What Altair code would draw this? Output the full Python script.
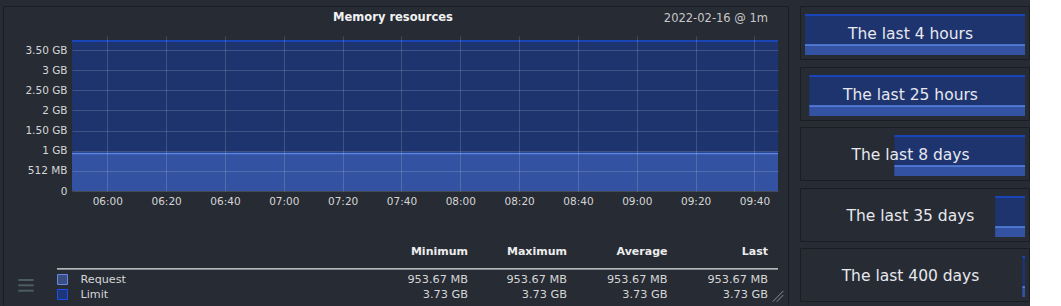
import altair as alt
import pandas as pd

# ---------------- data ----------------
times = ["2022-02-16T05:48:00", "2022-02-16T09:48:00"]
request_gib = [0.9313, 0.9313]      # 953.67 MB
limit_gib = [3.7253, 3.7253]        # 3.73 GB
y_ticks = [0, 0.5, 1, 1.5, 2, 2.5, 3, 3.5]
x_tick_labels = ["06:00", "06:20", "06:40", "07:00", "07:20", "07:40",
                 "08:00", "08:20", "08:40", "09:00", "09:20", "09:40"]
x_start, x_end = "05:48", "09:48"

series_names = ["Request", "Limit"]
stat_names = ["Minimum", "Maximum", "Average", "Last"]
request_stats = ["953.67 MB", "953.67 MB", "953.67 MB", "953.67 MB"]
limit_stats = ["3.73 GB", "3.73 GB", "3.73 GB", "3.73 GB"]
title_text = "Memory resources"
date_text = "2022-02-16 @ 1m"

mini_labels = ["The last 4 hours", "The last 25 hours", "The last 8 days",
               "The last 35 days", "The last 400 days"]
mini_window_h = [4, 25, 192, 840, 9600]
mini_data_from_h = [-4, -25, -114, -114, -114]
mini_request = [0.9313, 0.9313]
mini_limit = [3.7253, 3.7253]

# ---------------- styles / layout ----------------
FONT = "DejaVu Sans"
BG = "#262b34"
BORDER = "#1a1e24"
LIMIT_FILL = "#1e346e"
LIMIT_LINE = "#1a45b8"
REQ_FILL = "#3353a2"
REQ_LINE = "#5b84e6"
TXT = "#d6d6d6"

W, H = 706, 155
OX, OY = 72, 36          # plot origin in page pixels


def rx(v):
    return v - OX


def ry(v):
    return v - OY


def dt(hm):
    h, m = hm.split(":")
    return alt.DateTime(year=2022, month=2, date=16, hours=int(h), minutes=int(m))


one = alt.Data(values=[{"k": 1}])


def text_layer(txt, x, y, align, size, color=TXT, weight="normal"):
    return alt.Chart(pd.DataFrame({"t": [txt]})).mark_text(
        align=align, baseline="middle", font=FONT, fontSize=size,
        fontWeight=weight, color=color
    ).encode(text="t:N", x=alt.value(x), y=alt.value(y))


def rule_layer(x, y, x2, y2, color, width=1.0):
    return alt.Chart(one).mark_rule(color=color, strokeWidth=width).encode(
        x=alt.value(x), y=alt.value(y), x2=alt.value(x2), y2=alt.value(y2))


# ---------------- main plot ----------------
df = pd.DataFrame({"time": times, "request": request_gib, "limit": limit_gib})
base = alt.Chart(df)

x_axis = alt.Axis(values=[dt(t) for t in x_tick_labels], format="%H:%M",
                  labelFont=FONT, labelFontSize=10.5, labelColor=TXT,
                  labelPadding=5, ticks=False, domain=False,
                  grid=True, gridColor="#ffffff", gridOpacity=0.15,
                  zindex=1, labelFlush=False, labelOverlap=False)
y_axis = alt.Axis(values=y_ticks,
                  labelExpr="datum.value == 0 ? '0' : datum.value == 0.5 ? '512 MB' : "
                            "(datum.value % 1 == 0 ? format(datum.value, 'd') + ' GB' : "
                            "format(datum.value, '.2f') + ' GB')",
                  labelFont=FONT, labelFontSize=10.5, labelColor=TXT,
                  labelPadding=5, ticks=False, domain=False,
                  grid=True, gridColor="#ffffff", gridOpacity=0.15,
                  zindex=1, labelFlush=False, labelOverlap=False)
x_scale = alt.Scale(domain=[dt(x_start), dt(x_end)], nice=False)
y_scale = alt.Scale(domain=[0, 3.85], nice=False)


def X():
    return alt.X("time:T", title=None, scale=x_scale, axis=x_axis)


def Y(field):
    return alt.Y(f"{field}:Q", title=None, scale=y_scale, axis=y_axis)


main_plot = alt.layer(
    base.mark_area(color=LIMIT_FILL, opacity=1).encode(x=X(), y=Y("limit")),
    base.mark_line(color=LIMIT_LINE, strokeWidth=2).encode(x=X(), y=Y("limit")),
    base.mark_area(color=REQ_FILL, opacity=1).encode(x=X(), y=Y("request")),
    base.mark_line(color=REQ_LINE, strokeWidth=1.6).encode(x=X(), y=Y("request")),
)

layers = [main_plot]

# panel frame (left, top, right)
layers.append(rule_layer(rx(3.5), ry(6.5), rx(3.5), ry(305.5), BORDER))
layers.append(rule_layer(rx(3.5), ry(6.5), rx(788.5), ry(6.5), BORDER))
layers.append(rule_layer(rx(788.5), ry(6.5), rx(788.5), ry(305.5), BORDER))

# title + date
layers.append(text_layer(title_text, rx(393), ry(18.3), "center", 11.5,
                         color="#f2f2f2", weight="bold"))
layers.append(text_layer(date_text, rx(768), ry(18.5), "right", 11.5, color="#c8c8c8"))

# table
col_right = [468.0, 567.0, 667.5, 768.0]
for name, xr in zip(stat_names, col_right):
    layers.append(text_layer(name, rx(xr), ry(252.3), "right", 11,
                             color="#ececec", weight="bold"))
layers.append(rule_layer(rx(57), ry(268.8), rx(778), ry(268.8), "#e6e6e6", 1.2))

row_y = [280, 295]
swatch_fill = ["#3a4e82", "#1d3677"]
swatch_stroke = ["#6688e4", "#1b4ff0"]
for j, (nm, stats) in enumerate(zip(series_names, [request_stats, limit_stats])):
    layers.append(alt.Chart(one).mark_rect(
        fill=swatch_fill[j], stroke=swatch_stroke[j], strokeWidth=1).encode(
        x=alt.value(rx(57.5)), x2=alt.value(rx(67.5)),
        y=alt.value(ry(row_y[j] - 5.5)), y2=alt.value(ry(row_y[j] + 4.5))))
    layers.append(text_layer(nm, rx(80.5), ry(row_y[j]), "left", 11.2))
    for val, xr in zip(stats, col_right):
        layers.append(text_layer(val, rx(xr), ry(row_y[j]), "right", 11.3))

# hamburger icon
for yy in [280, 285.3, 290.7]:
    layers.append(rule_layer(rx(18.3), ry(yy), rx(33.7), ry(yy), "#4d5b64", 2))
# resize grip
layers.append(rule_layer(rx(772.7), ry(301.7), rx(783.3), ry(291), "#8a9099", 1))
layers.append(rule_layer(rx(776.7), ry(301.7), rx(783.3), ry(295), "#8a9099", 1))

# ---------------- mini panels (own scales, placed by pixel ranges) ----------------
box_top = [6.5, 67.5, 127.5, 188.5, 248.5]
box_left, box_right, box_h = 800.5, 1029.5, 53
mini_x0 = [805, 809.3, 805, 805, 805]
mini_x1 = 1025
for i, label in enumerate(mini_labels):
    t = box_top[i]
    layers.append(alt.Chart(one).mark_rect(
        fill="transparent", stroke=BORDER, strokeWidth=1).encode(
        x=alt.value(rx(box_left)), x2=alt.value(rx(box_right)),
        y=alt.value(ry(t)), y2=alt.value(ry(t + box_h))))
    d = pd.DataFrame({"h": [mini_data_from_h[i], 0],
                      "request": mini_request, "limit": mini_limit})
    xs = alt.Scale(domain=[-mini_window_h[i], 0],
                   range=[rx(mini_x0[i]), rx(mini_x1)], nice=False)
    ys = alt.Scale(domain=[0, 3.7253], range=[ry(t + 48.5), ry(t + 8.5)], nice=False)
    b = alt.Chart(d)
    mx = alt.X("h:Q", scale=xs, axis=None)
    layers.append(alt.layer(
        b.mark_area(color=LIMIT_FILL).encode(x=mx, y=alt.Y("limit:Q", scale=ys, axis=None)),
        b.mark_line(color=LIMIT_LINE, strokeWidth=2).encode(
            x=mx, y=alt.Y("limit:Q", scale=ys, axis=None)),
        b.mark_area(color=REQ_FILL).encode(x=mx, y=alt.Y("request:Q", scale=ys, axis=None)),
        b.mark_line(color=REQ_LINE, strokeWidth=1.5).encode(
            x=mx, y=alt.Y("request:Q", scale=ys, axis=None)),
    ))
    layers.append(text_layer(label, rx(910.5), ry(t + 27.5), "center", 15.5,
                             color="#e8e8ee"))

chart = alt.layer(*layers).resolve_scale(
    x="independent", y="independent"
).properties(
    width=W, height=H,
    view=alt.ViewBackground(stroke="transparent"),
    background=BG,
    padding={"left": 3, "top": 6, "right": 0, "bottom": 0},
)

chart.save("out.html", embed_options={"renderer": "svg", "actions": False})
